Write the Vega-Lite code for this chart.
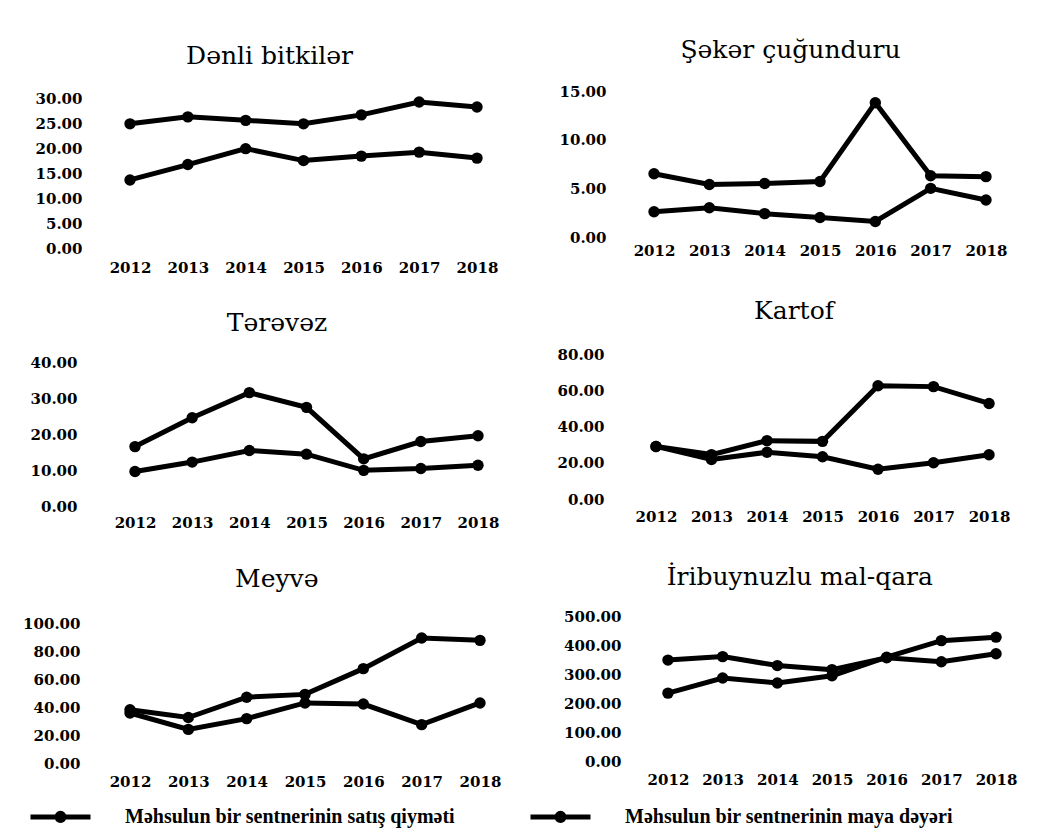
{
  "$schema": "https://vega.github.io/schema/vega-lite/v6.json",
  "background": "white",
  "padding": {"left": 22, "top": 38, "right": 5, "bottom": 5},
  "data": {"values": [
    {"crop": "Dənli bitkilər", "year": 2012, "series": "Məhsulun bir sentnerinin satış qiyməti", "value": 25.0},
    {"crop": "Dənli bitkilər", "year": 2013, "series": "Məhsulun bir sentnerinin satış qiyməti", "value": 26.4},
    {"crop": "Dənli bitkilər", "year": 2014, "series": "Məhsulun bir sentnerinin satış qiyməti", "value": 25.7},
    {"crop": "Dənli bitkilər", "year": 2015, "series": "Məhsulun bir sentnerinin satış qiyməti", "value": 25.0},
    {"crop": "Dənli bitkilər", "year": 2016, "series": "Məhsulun bir sentnerinin satış qiyməti", "value": 26.8},
    {"crop": "Dənli bitkilər", "year": 2017, "series": "Məhsulun bir sentnerinin satış qiyməti", "value": 29.4},
    {"crop": "Dənli bitkilər", "year": 2018, "series": "Məhsulun bir sentnerinin satış qiyməti", "value": 28.4},
    {"crop": "Dənli bitkilər", "year": 2012, "series": "Məhsulun bir sentnerinin maya dəyəri", "value": 13.7},
    {"crop": "Dənli bitkilər", "year": 2013, "series": "Məhsulun bir sentnerinin maya dəyəri", "value": 16.8},
    {"crop": "Dənli bitkilər", "year": 2014, "series": "Məhsulun bir sentnerinin maya dəyəri", "value": 20.0},
    {"crop": "Dənli bitkilər", "year": 2015, "series": "Məhsulun bir sentnerinin maya dəyəri", "value": 17.6},
    {"crop": "Dənli bitkilər", "year": 2016, "series": "Məhsulun bir sentnerinin maya dəyəri", "value": 18.5},
    {"crop": "Dənli bitkilər", "year": 2017, "series": "Məhsulun bir sentnerinin maya dəyəri", "value": 19.3},
    {"crop": "Dənli bitkilər", "year": 2018, "series": "Məhsulun bir sentnerinin maya dəyəri", "value": 18.1},
    {"crop": "Şəkər çuğunduru", "year": 2012, "series": "Məhsulun bir sentnerinin satış qiyməti", "value": 6.5},
    {"crop": "Şəkər çuğunduru", "year": 2013, "series": "Məhsulun bir sentnerinin satış qiyməti", "value": 5.4},
    {"crop": "Şəkər çuğunduru", "year": 2014, "series": "Məhsulun bir sentnerinin satış qiyməti", "value": 5.5},
    {"crop": "Şəkər çuğunduru", "year": 2015, "series": "Məhsulun bir sentnerinin satış qiyməti", "value": 5.7},
    {"crop": "Şəkər çuğunduru", "year": 2016, "series": "Məhsulun bir sentnerinin satış qiyməti", "value": 13.8},
    {"crop": "Şəkər çuğunduru", "year": 2017, "series": "Məhsulun bir sentnerinin satış qiyməti", "value": 6.3},
    {"crop": "Şəkər çuğunduru", "year": 2018, "series": "Məhsulun bir sentnerinin satış qiyməti", "value": 6.2},
    {"crop": "Şəkər çuğunduru", "year": 2012, "series": "Məhsulun bir sentnerinin maya dəyəri", "value": 2.6},
    {"crop": "Şəkər çuğunduru", "year": 2013, "series": "Məhsulun bir sentnerinin maya dəyəri", "value": 3.0},
    {"crop": "Şəkər çuğunduru", "year": 2014, "series": "Məhsulun bir sentnerinin maya dəyəri", "value": 2.4},
    {"crop": "Şəkər çuğunduru", "year": 2015, "series": "Məhsulun bir sentnerinin maya dəyəri", "value": 2.0},
    {"crop": "Şəkər çuğunduru", "year": 2016, "series": "Məhsulun bir sentnerinin maya dəyəri", "value": 1.6},
    {"crop": "Şəkər çuğunduru", "year": 2017, "series": "Məhsulun bir sentnerinin maya dəyəri", "value": 5.0},
    {"crop": "Şəkər çuğunduru", "year": 2018, "series": "Məhsulun bir sentnerinin maya dəyəri", "value": 3.8},
    {"crop": "Tərəvəz", "year": 2012, "series": "Məhsulun bir sentnerinin satış qiyməti", "value": 16.5},
    {"crop": "Tərəvəz", "year": 2013, "series": "Məhsulun bir sentnerinin satış qiyməti", "value": 24.5},
    {"crop": "Tərəvəz", "year": 2014, "series": "Məhsulun bir sentnerinin satış qiyməti", "value": 31.5},
    {"crop": "Tərəvəz", "year": 2015, "series": "Məhsulun bir sentnerinin satış qiyməti", "value": 27.4},
    {"crop": "Tərəvəz", "year": 2016, "series": "Məhsulun bir sentnerinin satış qiyməti", "value": 13.1},
    {"crop": "Tərəvəz", "year": 2017, "series": "Məhsulun bir sentnerinin satış qiyməti", "value": 17.9},
    {"crop": "Tərəvəz", "year": 2018, "series": "Məhsulun bir sentnerinin satış qiyməti", "value": 19.5},
    {"crop": "Tərəvəz", "year": 2012, "series": "Məhsulun bir sentnerinin maya dəyəri", "value": 9.6},
    {"crop": "Tərəvəz", "year": 2013, "series": "Məhsulun bir sentnerinin maya dəyəri", "value": 12.2},
    {"crop": "Tərəvəz", "year": 2014, "series": "Məhsulun bir sentnerinin maya dəyəri", "value": 15.4},
    {"crop": "Tərəvəz", "year": 2015, "series": "Məhsulun bir sentnerinin maya dəyəri", "value": 14.4},
    {"crop": "Tərəvəz", "year": 2016, "series": "Məhsulun bir sentnerinin maya dəyəri", "value": 9.9},
    {"crop": "Tərəvəz", "year": 2017, "series": "Məhsulun bir sentnerinin maya dəyəri", "value": 10.4},
    {"crop": "Tərəvəz", "year": 2018, "series": "Məhsulun bir sentnerinin maya dəyəri", "value": 11.3},
    {"crop": "Kartof", "year": 2012, "series": "Məhsulun bir sentnerinin satış qiyməti", "value": 29.0},
    {"crop": "Kartof", "year": 2013, "series": "Məhsulun bir sentnerinin satış qiyməti", "value": 24.5},
    {"crop": "Kartof", "year": 2014, "series": "Məhsulun bir sentnerinin satış qiyməti", "value": 32.2},
    {"crop": "Kartof", "year": 2015, "series": "Məhsulun bir sentnerinin satış qiyməti", "value": 31.8},
    {"crop": "Kartof", "year": 2016, "series": "Məhsulun bir sentnerinin satış qiyməti", "value": 62.5},
    {"crop": "Kartof", "year": 2017, "series": "Məhsulun bir sentnerinin satış qiyməti", "value": 62.0},
    {"crop": "Kartof", "year": 2018, "series": "Məhsulun bir sentnerinin satış qiyməti", "value": 52.7},
    {"crop": "Kartof", "year": 2012, "series": "Məhsulun bir sentnerinin maya dəyəri", "value": 29.0},
    {"crop": "Kartof", "year": 2013, "series": "Məhsulun bir sentnerinin maya dəyəri", "value": 21.8},
    {"crop": "Kartof", "year": 2014, "series": "Məhsulun bir sentnerinin maya dəyəri", "value": 25.8},
    {"crop": "Kartof", "year": 2015, "series": "Məhsulun bir sentnerinin maya dəyəri", "value": 23.3},
    {"crop": "Kartof", "year": 2016, "series": "Məhsulun bir sentnerinin maya dəyəri", "value": 16.4},
    {"crop": "Kartof", "year": 2017, "series": "Məhsulun bir sentnerinin maya dəyəri", "value": 20.0},
    {"crop": "Kartof", "year": 2018, "series": "Məhsulun bir sentnerinin maya dəyəri", "value": 24.4},
    {"crop": "Meyvə", "year": 2012, "series": "Məhsulun bir sentnerinin satış qiyməti", "value": 38.0},
    {"crop": "Meyvə", "year": 2013, "series": "Məhsulun bir sentnerinin satış qiyməti", "value": 32.5},
    {"crop": "Meyvə", "year": 2014, "series": "Məhsulun bir sentnerinin satış qiyməti", "value": 47.0},
    {"crop": "Meyvə", "year": 2015, "series": "Məhsulun bir sentnerinin satış qiyməti", "value": 49.0},
    {"crop": "Meyvə", "year": 2016, "series": "Məhsulun bir sentnerinin satış qiyməti", "value": 67.4},
    {"crop": "Meyvə", "year": 2017, "series": "Məhsulun bir sentnerinin satış qiyməti", "value": 89.3},
    {"crop": "Meyvə", "year": 2018, "series": "Məhsulun bir sentnerinin satış qiyməti", "value": 87.6},
    {"crop": "Meyvə", "year": 2012, "series": "Məhsulun bir sentnerinin maya dəyəri", "value": 35.7},
    {"crop": "Meyvə", "year": 2013, "series": "Məhsulun bir sentnerinin maya dəyəri", "value": 24.0},
    {"crop": "Meyvə", "year": 2014, "series": "Məhsulun bir sentnerinin maya dəyəri", "value": 31.7},
    {"crop": "Meyvə", "year": 2015, "series": "Məhsulun bir sentnerinin maya dəyəri", "value": 42.9},
    {"crop": "Meyvə", "year": 2016, "series": "Məhsulun bir sentnerinin maya dəyəri", "value": 42.1},
    {"crop": "Meyvə", "year": 2017, "series": "Məhsulun bir sentnerinin maya dəyəri", "value": 27.4},
    {"crop": "Meyvə", "year": 2018, "series": "Məhsulun bir sentnerinin maya dəyəri", "value": 42.9},
    {"crop": "İribuynuzlu mal-qara", "year": 2012, "series": "Məhsulun bir sentnerinin satış qiyməti", "value": 234},
    {"crop": "İribuynuzlu mal-qara", "year": 2013, "series": "Məhsulun bir sentnerinin satış qiyməti", "value": 286},
    {"crop": "İribuynuzlu mal-qara", "year": 2014, "series": "Məhsulun bir sentnerinin satış qiyməti", "value": 269},
    {"crop": "İribuynuzlu mal-qara", "year": 2015, "series": "Məhsulun bir sentnerinin satış qiyməti", "value": 294},
    {"crop": "İribuynuzlu mal-qara", "year": 2016, "series": "Məhsulun bir sentnerinin satış qiyməti", "value": 358},
    {"crop": "İribuynuzlu mal-qara", "year": 2017, "series": "Məhsulun bir sentnerinin satış qiyməti", "value": 415},
    {"crop": "İribuynuzlu mal-qara", "year": 2018, "series": "Məhsulun bir sentnerinin satış qiyməti", "value": 427},
    {"crop": "İribuynuzlu mal-qara", "year": 2012, "series": "Məhsulun bir sentnerinin maya dəyəri", "value": 348},
    {"crop": "İribuynuzlu mal-qara", "year": 2013, "series": "Məhsulun bir sentnerinin maya dəyəri", "value": 360},
    {"crop": "İribuynuzlu mal-qara", "year": 2014, "series": "Məhsulun bir sentnerinin maya dəyəri", "value": 329},
    {"crop": "İribuynuzlu mal-qara", "year": 2015, "series": "Məhsulun bir sentnerinin maya dəyəri", "value": 315},
    {"crop": "İribuynuzlu mal-qara", "year": 2016, "series": "Məhsulun bir sentnerinin maya dəyəri", "value": 356},
    {"crop": "İribuynuzlu mal-qara", "year": 2017, "series": "Məhsulun bir sentnerinin maya dəyəri", "value": 342},
    {"crop": "İribuynuzlu mal-qara", "year": 2018, "series": "Məhsulun bir sentnerinin maya dəyəri", "value": 370}
  ]},
  "config": {
    "view": {"stroke": null},
    "axis": {"domain": false, "ticks": false, "tickSize": 0, "grid": false, "title": null, "labelFont": "DejaVu Serif", "labelFontWeight": "bold", "labelFontSize": 15, "labelColor": "black"},
    "axisX": {"labelAngle": 0},
    "title": {"font": "DejaVu Serif", "fontSize": 25, "fontWeight": "normal", "color": "black", "frame": "bounds", "anchor": "middle"},
    "line": {"strokeWidth": 5},
    "point": {"filled": true, "size": 130, "opacity": 1},
    "legend": {
      "orient": "none", "legendX": -57, "legendY": 711, "direction": "horizontal", "title": null,
      "labelFont": "Liberation Serif", "labelFontWeight": "bold", "labelFontSize": 20, "labelColor": "black", "labelLimit": 600,
      "symbolType": "M-2.5,0H2.5M0.3,0A0.3,0.3,0,1,1,-0.3,0A0.3,0.3,0,1,1,0.3,0Z",
      "symbolSize": 576, "symbolFillColor": "black", "symbolStrokeColor": "black", "symbolStrokeWidth": 5, "symbolOpacity": 1,
      "labelOffset": 50, "columnPadding": 64
    }
  },
  "spacing": 47,
  "hconcat": [
    {
      "spacing": 35,
      "vconcat": [
        {
          "title": {"text": "Dənli bitkilər", "offset": 22},
          "width": 401, "height": 157,
          "transform": [{"filter": "datum.crop === 'Dənli bitkilər'"}],
          "encoding": {
            "x": {"field": "year", "type": "ordinal", "scale": {"type": "point", "padding": 0.467}, "axis": {"labelPadding": 12}},
            "y": {"field": "value", "type": "quantitative", "scale": {"domain": [0, 31.61], "nice": false}, "axis": {"values": [0, 5, 10, 15, 20, 25, 30], "format": ".2f", "labelPadding": 21}},
            "color": {"field": "series", "type": "nominal", "scale": {"domain": ["Məhsulun bir sentnerinin satış qiyməti", "Məhsulun bir sentnerinin maya dəyəri"], "range": ["#000000", "#000000"]}}
          },
          "layer": [{"mark": "line"}, {"mark": "point"}]
        },
        {
          "title": {"text": "Tərəvəz", "offset": 19.5, "dx": 7},
          "width": 407, "height": 144,
          "transform": [{"filter": "datum.crop === 'Tərəvəz'"}],
          "encoding": {
            "x": {"field": "year", "type": "ordinal", "scale": {"type": "point", "padding": 0.56}, "axis": {"labelPadding": 9.5}},
            "y": {"field": "value", "type": "quantitative", "scale": {"domain": [0, 40], "nice": false}, "axis": {"values": [0, 10, 20, 30, 40], "format": ".2f", "labelPadding": 26}},
            "color": {"field": "series", "type": "nominal", "scale": {"domain": ["Məhsulun bir sentnerinin satış qiyməti", "Məhsulun bir sentnerinin maya dəyəri"], "range": ["#000000", "#000000"]}}
          },
          "layer": [{"mark": "line"}, {"mark": "point"}]
        },
        {
          "title": {"text": "Meyvə", "offset": 24.5, "dx": 12},
          "width": 404, "height": 140,
          "transform": [{"filter": "datum.crop === 'Meyvə'"}],
          "encoding": {
            "x": {"field": "year", "type": "ordinal", "scale": {"type": "point", "padding": 0.463}, "axis": {"labelPadding": 11.5}},
            "y": {"field": "value", "type": "quantitative", "scale": {"domain": [0, 100], "nice": false}, "axis": {"values": [0, 20, 40, 60, 80, 100], "format": ".2f", "labelPadding": 23}},
            "color": {"field": "series", "type": "nominal", "scale": {"domain": ["Məhsulun bir sentnerinin satış qiyməti", "Məhsulun bir sentnerinin maya dəyəri"], "range": ["#000000", "#000000"]}}
          },
          "layer": [{"mark": "line"}, {"mark": "point"}]
        }
      ]
    },
    {
      "spacing": 40,
      "vconcat": [
        {
          "title": {"text": "Şəkər çuğunduru", "offset": 21, "dx": 7},
          "width": 376, "height": 146,
          "transform": [{"filter": "datum.crop === 'Şəkər çuğunduru'"}],
          "encoding": {
            "x": {"field": "year", "type": "ordinal", "scale": {"type": "point", "padding": 0.398}, "axis": {"labelPadding": 6.5}},
            "y": {"field": "value", "type": "quantitative", "scale": {"domain": [0, 15], "nice": false}, "axis": {"values": [0, 5, 10, 15], "format": ".2f", "labelPadding": 26}},
            "color": {"field": "series", "type": "nominal", "scale": {"domain": ["Məhsulun bir sentnerinin satış qiyməti", "Məhsulun bir sentnerinin maya dəyəri"], "range": ["#000000", "#000000"]}}
          },
          "layer": [{"mark": "line"}, {"mark": "point"}]
        },
        {
          "title": {"text": "Kartof", "offset": 23, "dx": 9},
          "width": 381, "height": 145,
          "transform": [{"filter": "datum.crop === 'Kartof'"}],
          "encoding": {
            "x": {"field": "year", "type": "ordinal", "scale": {"type": "point", "padding": 0.432}, "axis": {"labelPadding": 10.5}},
            "y": {"field": "value", "type": "quantitative", "scale": {"domain": [0, 80], "nice": false}, "axis": {"values": [0, 20, 40, 60, 80], "format": ".2f", "labelPadding": 28}},
            "color": {"field": "series", "type": "nominal", "scale": {"domain": ["Məhsulun bir sentnerinin satış qiyməti", "Məhsulun bir sentnerinin maya dəyəri"], "range": ["#000000", "#000000"]}}
          },
          "layer": [{"mark": "line"}, {"mark": "point"}]
        },
        {
          "title": {"text": "İribuynuzlu mal-qara", "offset": 19, "dx": 2},
          "width": 400, "height": 145,
          "transform": [{"filter": "datum.crop === 'İribuynuzlu mal-qara'"}],
          "encoding": {
            "x": {"field": "year", "type": "ordinal", "scale": {"type": "point", "padding": 0.658}, "axis": {"labelPadding": 11.5}},
            "y": {"field": "value", "type": "quantitative", "scale": {"domain": [0, 500], "nice": false}, "axis": {"values": [0, 100, 200, 300, 400, 500], "format": ".2f", "labelPadding": 11}},
            "color": {"field": "series", "type": "nominal", "scale": {"domain": ["Məhsulun bir sentnerinin satış qiyməti", "Məhsulun bir sentnerinin maya dəyəri"], "range": ["#000000", "#000000"]}}
          },
          "layer": [{"mark": "line"}, {"mark": "point"}]
        }
      ]
    }
  ]
}
